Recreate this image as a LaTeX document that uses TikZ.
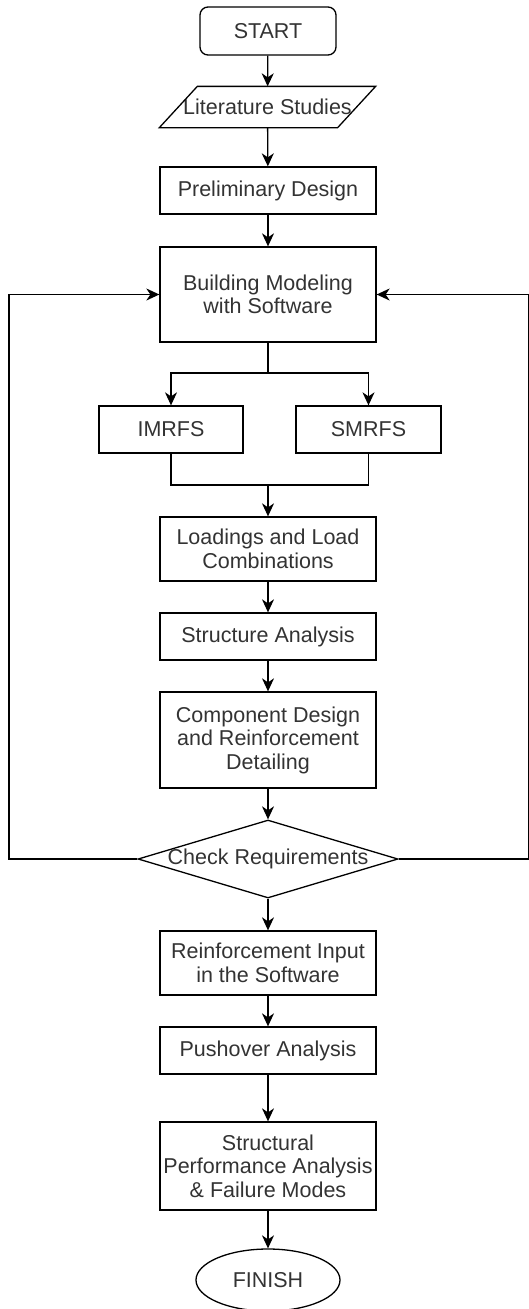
\documentclass[tikz,border=0pt]{standalone}
\usepackage{fontspec}
\setmainfont{Liberation Sans}
\usepackage{tikz}
\usetikzlibrary{shapes.geometric, arrows.meta}

\tikzset{
 base/.style={draw, line width=1.3pt, align=center, inner sep=0pt, text=black!80,
   font=\fontsize{21.5}{23.5}\selectfont},
 stepbox/.style={base, rectangle, minimum width=216pt, minimum height=47pt},
 termbox/.style={base, rectangle, rounded corners=8pt, minimum width=136pt, minimum height=48pt},
 databox/.style={base, draw=none, rectangle, minimum width=215pt, minimum height=40pt},
 checkbox/.style={base, diamond, minimum width=260pt, minimum height=78pt},
 endbox/.style={base, ellipse, minimum width=144pt, minimum height=62pt},
 arr/.style={line width=1.3pt, -{Stealth[length=13pt, width=12pt, inset=4pt]}},
 ln/.style={line width=1.3pt}
}

\begin{document}
\begin{tikzpicture}[x=1pt, y=-1pt]
 \useasboundingbox (0,0) rectangle (529,1309);
%
 \node[termbox] (start) at (268,31) {START};
 \node[databox] (lit) at (267.5,107) {Literature Studies};
 \draw[ln, line join=miter] ([xshift=38pt]lit.north west) -- (lit.north east)
   -- ([xshift=-38pt]lit.south east) -- (lit.south west) -- cycle;
 \node[stepbox] (prelim) at (268,190.5) {Preliminary Design};
 \node[stepbox, minimum height=95pt] (build) at (268,294.5) {Building Modeling\\with Software};
 \node[stepbox, minimum width=144pt] (imrfs) at (171,429.5) {IMRFS};
 \node[stepbox, minimum width=145pt] (smrfs) at (368.5,429.5) {SMRFS};
 \node[stepbox, minimum height=64pt] (loads) at (268,549) {Loadings and Load\\Combinations};
 \node[stepbox] (struct) at (268,636.5) {Structure Analysis};
 \node[stepbox, minimum height=96pt] (comp) at (268,740) {Component Design\\and Reinforcement\\Detailing};
 \node[checkbox] (check) at (268,859) {\makebox[0pt]{Check Requirements}};
 \node[stepbox, minimum height=64pt] (reinf) at (268,963) {Reinforcement Input\\in the Software};
 \node[stepbox] (push) at (268,1050.5) {Pushover Analysis};
 \node[stepbox, minimum height=88pt] (perf) at (268,1166) {Structural\\Performance Analysis\\\& Failure Modes};
 \node[endbox] (finish) at (268,1280) {FINISH};
%
 \coordinate (split) at (268,373);
 \coordinate (merge) at (268,485);
 \coordinate (lft) at (9,0);
 \coordinate (rgt) at (528.5,0);
%
 \draw[arr] (start) -- (lit);
 \draw[arr] (lit) -- (prelim);
 \draw[arr] (prelim) -- (build);
 \draw[ln] (build.south) -- (split);
 \draw[arr] (split) -| (imrfs.north);
 \draw[arr] (split) -| (smrfs.north);
 \draw[ln] (imrfs.south) |- (merge) -| (smrfs.south);
 \draw[arr] (merge) -- (loads.north);
 \draw[arr] (loads) -- (struct);
 \draw[arr] (struct) -- (comp);
 \draw[arr] (comp) -- (check);
 \draw[arr] (check) -- (reinf);
 \draw[arr] (reinf) -- (push);
 \draw[arr] (push) -- (perf);
 \draw[arr] (perf) -- (finish);
%
 \draw[arr] (check.west) -- (check.west -| lft) |- (build.west);
 \draw[arr] (check.east) -- (check.east -| rgt) |- (build.east);
\end{tikzpicture}
\end{document}
